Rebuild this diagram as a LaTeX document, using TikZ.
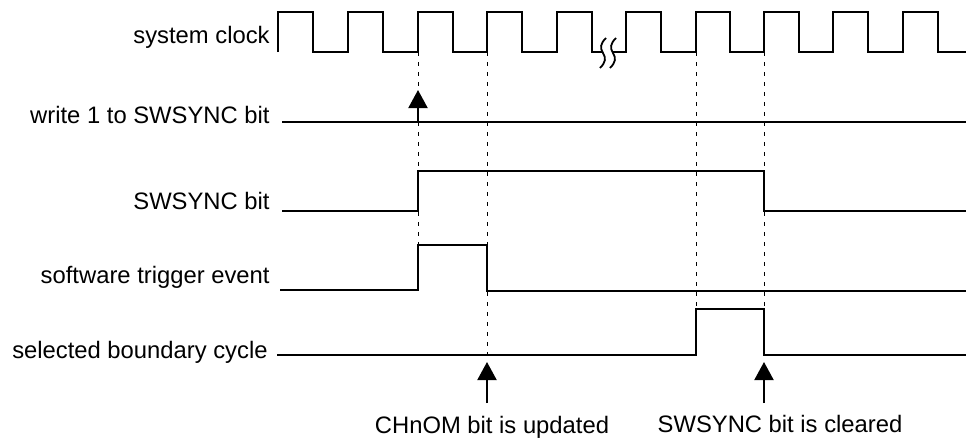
\documentclass[tikz,border=0pt]{standalone}
\usepackage{fontspec}
\setmainfont{Liberation Sans}
\usetikzlibrary{arrows.meta}

\tikzset{
    signal/.style={line width=1pt, line join=miter},
    guide/.style={line width=0.5pt, dash pattern=on 2pt off 3pt},
    pointer/.style={line width=1pt, -{Triangle[width=9.5pt, length=9pt]}},
    lbl/.style={anchor=base east, inner sep=0pt, font=\fontsize{11.9}{14}\selectfont},
    note/.style={anchor=base, inner sep=0pt, font=\fontsize{11.9}{14}\selectfont}
}

\begin{document}
\begin{tikzpicture}[x=0.5pt, y=-0.5pt]
    \useasboundingbox (0, 0) rectangle (966, 439);

    % Signal names
    \node[lbl] (clklbl) at (270, 44) {system clock};
    \node[lbl] (wrlbl) at (270, 123) {write 1 to SWSYNC bit};
    \node[lbl] (swsynclbl) at (270, 209) {SWSYNC bit};
    \node[lbl] (trglbl) at (270, 283) {software trigger event};
    \node[lbl] (sellbl) at (268, 358) {selected boundary cycle};

    % Guide lines (dashed)
    \draw[guide] (418, 52) -- (418, 245);
    \draw[guide] (487, 52) -- (487, 355);
    \draw[guide] (696, 52) -- (696, 309);
    \draw[guide] (764, 52) -- (764, 309);

    % System clock, first part
    \draw[signal] (278, 52) -- (278, 12) -- (313, 12) -- (313, 52) -- (348, 52) -- (348, 12) -- (383, 12) -- (383, 52)
        -- (418, 52) -- (418, 12) -- (453, 12) -- (453, 52) -- (487, 52) -- (487, 12) -- (522, 12) -- (522, 52)
        -- (557, 52) -- (557, 12) -- (592, 12) -- (592, 52) -- (603, 52);
    % clock break
    \draw[line width=0.9pt] (606, 38) .. controls (600, 44) and (600, 48) .. (603, 53) .. controls (606, 58) and (606, 62) .. (600, 68);
    \draw[line width=0.9pt] (616, 38) .. controls (610, 44) and (610, 48) .. (613, 53) .. controls (616, 58) and (616, 62) .. (610, 68);
    % System clock, second part
    \draw[signal] (613, 52) -- (626, 52) -- (626, 12) -- (661, 12) -- (661, 52) -- (696, 52) -- (696, 12) -- (730, 12) -- (730, 52)
        -- (764, 52) -- (764, 12) -- (799, 12) -- (799, 52) -- (833, 52) -- (833, 12) -- (868, 12) -- (868, 52)
        -- (903, 52) -- (903, 12) -- (938, 12) -- (938, 52) -- (966, 52);

    % write 1 to SWSYNC bit
    \draw[signal] (282, 122) -- (966, 122);
    \coordinate (wrtail) at (418, 122);
    \coordinate (wrtip) at (418, 90);
    \draw[pointer] (wrtail) -- (wrtip);

    % SWSYNC bit
    \draw[signal] (282, 211) -- (418, 211) -- (418, 171) -- (764, 171) -- (764, 211) -- (966, 211);

    % software trigger event
    \draw[signal] (280, 290) -- (418, 290) -- (418, 245) -- (487, 245) -- (487, 291) -- (966, 291);

    % selected boundary cycle
    \draw[signal] (277, 355) -- (696, 355) -- (696, 309) -- (764, 309) -- (764, 355) -- (966, 355);

    % Event markers
    \coordinate (updtail) at (487, 403);
    \coordinate (updtip) at (487, 362);
    \draw[pointer] (updtail) -- (updtip);
    \node[note] (updlbl) at (492, 433) {CHnOM bit is updated};

    \coordinate (clrtail) at (764, 403);
    \coordinate (clrtip) at (764, 362);
    \draw[pointer] (clrtail) -- (clrtip);
    \node[note] (clrlbl) at (780, 432) {SWSYNC bit is cleared};
\end{tikzpicture}
\end{document}
